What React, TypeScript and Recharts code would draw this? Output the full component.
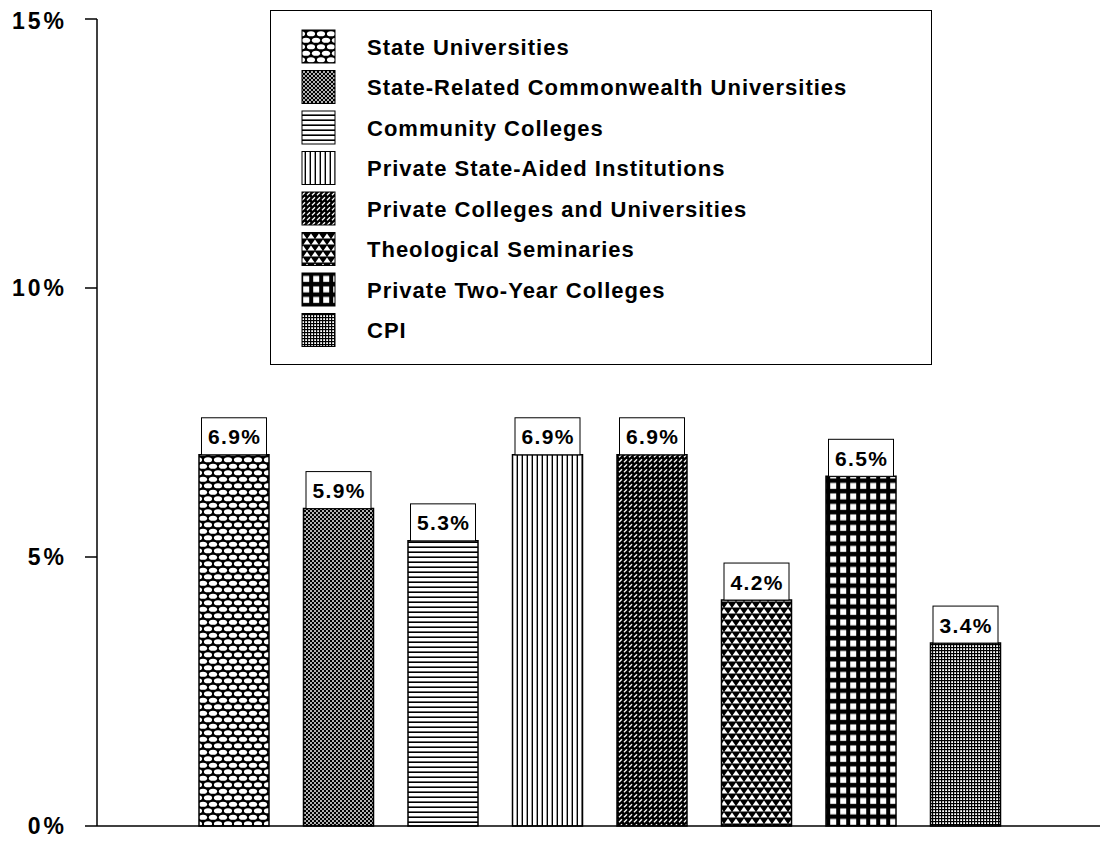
import { Bar, BarChart, Cell, LabelList, Legend, XAxis, YAxis } from "recharts"

const categories = [
  "State Universities",
  "State-Related Commonwealth Universities",
  "Community Colleges",
  "Private State-Aided Institutions",
  "Private Colleges and Universities",
  "Theological Seminaries",
  "Private Two-Year Colleges",
  "CPI",
]
const values = [6.9, 5.9, 5.3, 6.9, 6.9, 4.2, 6.5, 3.4]
const yTicks = [0, 5, 10, 15]

const data = categories.map((name, i) => ({ name, value: values[i] }))

const FONT = "'Liberation Sans', Arial, sans-serif"

// hatch fills, one per category, in category order
function PatternDefs({ prefix }: { prefix: string }) {
  return (
    <defs>
      <pattern id={`${prefix}-0`} width={10} height={13} patternUnits="userSpaceOnUse">
        <rect width={10} height={13} fill="#000" />
        <ellipse cx={5} cy={3.25} rx={4.1} ry={2.6} fill="#fff" />
        <ellipse cx={0} cy={9.75} rx={4.1} ry={2.6} fill="#fff" />
        <ellipse cx={10} cy={9.75} rx={4.1} ry={2.6} fill="#fff" />
      </pattern>
      <pattern id={`${prefix}-1`} width={4} height={4} patternUnits="userSpaceOnUse">
        <rect width={4} height={4} fill="#000" />
        <circle cx={1} cy={1} r={0.95} fill="#fff" />
        <circle cx={3} cy={3} r={0.95} fill="#fff" />
      </pattern>
      <pattern id={`${prefix}-2`} width={10} height={5} patternUnits="userSpaceOnUse">
        <rect width={10} height={5} fill="#fff" />
        <rect y={3.4} width={10} height={1.6} fill="#000" />
      </pattern>
      <pattern id={`${prefix}-3`} width={5} height={10} patternUnits="userSpaceOnUse">
        <rect width={5} height={10} fill="#fff" />
        <rect x={3.6} width={1.4} height={10} fill="#000" />
      </pattern>
      <pattern id={`${prefix}-4`} width={5} height={5} patternUnits="userSpaceOnUse">
        <rect width={5} height={5} fill="#000" />
        <line x1={1} y1={4.2} x2={4} y2={1.2} stroke="#fff" strokeWidth={1.3} />
      </pattern>
      <pattern id={`${prefix}-5`} width={8} height={12} patternUnits="userSpaceOnUse">
        <rect width={8} height={12} fill="#000" />
        <path d="M4 0.6 L7.6 5.4 L0.4 5.4 Z" fill="#fff" />
        <path d="M0 6.6 L3.6 11.4 L-3.6 11.4 Z M8 6.6 L11.6 11.4 L4.4 11.4 Z" fill="#fff" />
      </pattern>
      <pattern id={`${prefix}-6`} width={10} height={10.5} patternUnits="userSpaceOnUse">
        <rect width={10} height={10.5} fill="#000" />
        <rect x={2.2} y={2.4} width={6} height={6} fill="#fff" />
      </pattern>
      <pattern id={`${prefix}-7`} width={3} height={3} patternUnits="userSpaceOnUse">
        <rect width={3} height={3} fill="#fff" />
        <rect width={3} height={1.2} fill="#000" />
        <rect width={1.2} height={3} fill="#000" />
      </pattern>
    </defs>
  )
}

const LegendBox = () => (
  <div
    style={{
      width: 662,
      height: 355,
      border: "1.5px solid #000",
      boxSizing: "border-box",
      background: "#fff",
    }}
  >
    <svg width={659} height={352} style={{ display: "block" }}>
      <PatternDefs prefix="leg" />
      {categories.map((c, i) => {
        const top = 19 + i * 40.5
        return (
          <g key={c}>
            <rect x={31} y={top} width={33} height={33} fill={`url(#leg-${i})`} stroke="#000" strokeWidth={1} />
            <text
              x={96}
              y={top + 17}
              dominantBaseline="central"
              fontFamily={FONT}
              fontWeight="bold"
              fontSize={22}
              letterSpacing={1}
              fill="#000"
            >
              {c}
            </text>
          </g>
        )
      })}
    </svg>
  </div>
)

const ValueLabel = (props: any) => {
  const { x, y, width, value } = props
  const cx = x + width / 2
  return (
    <g>
      <rect x={cx - 32.5} y={y - 37} width={65} height={37} fill="#fff" stroke="#000" strokeWidth={1} />
      <text
        x={cx + 0.7}
        y={y - 18}
        textAnchor="middle"
        dominantBaseline="central"
        fontFamily={FONT}
        fontWeight="bold"
        fontSize={21}
        letterSpacing={1.4}
        fill="#000"
      >
        {`${Number(value).toFixed(1)}%`}
      </text>
    </g>
  )
}

export default function App() {
  return (
    <div style={{ width: 1097, height: 835, background: "#fff" }}>
      <BarChart width={1097} height={835} data={data} margin={{ top: 11, right: 5, left: 0, bottom: 16 }}>
        <PatternDefs prefix="bar" />
        <XAxis
          dataKey="name"
          tick={false}
          tickLine={false}
          height={1}
          axisLine={{ stroke: "#000", strokeWidth: 1.5 }}
          padding={{ left: 85, right: 82 }}
        />
        <YAxis
          domain={[0, 15]}
          ticks={yTicks}
          width={89}
          tickSize={12}
          tickMargin={18}
          axisLine={{ stroke: "#000", strokeWidth: 1.5 }}
          tickLine={{ stroke: "#000", strokeWidth: 1.5 }}
          tickFormatter={(v: number) => `${v}%`}
          tick={{ fontFamily: FONT, fontWeight: "bold", fontSize: 23, fill: "#000", letterSpacing: 3 }}
        />
        <Legend
          layout="vertical"
          verticalAlign="middle"
          align="center"
          content={<LegendBox />}
          wrapperStyle={{ left: 262, top: 2, width: 662, height: 355 }}
        />
        <Bar dataKey="value" barSize={70} stroke="#000" strokeWidth={1.5} isAnimationActive={false}>
          {data.map((d, i) => (
            <Cell key={d.name} fill={`url(#bar-${i})`} />
          ))}
          <LabelList dataKey="value" content={<ValueLabel />} />
        </Bar>
      </BarChart>
    </div>
  )
}
